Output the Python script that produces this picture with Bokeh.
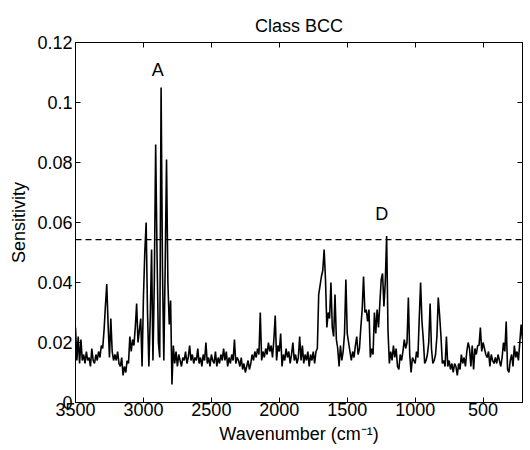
from bokeh.plotting import figure
from bokeh.models import Range1d, LinearAxis, FixedTicker, Span, Label
from bokeh.embed import file_html
from bokeh.resources import INLINE

# ---- data ----
wavenumber = list(range(3500, 205, -10))  # sampling grid, cm^-1
sens_milli = [
    25, 14, 22, 13, 21, 14, 16, 13, 17, 14,      # 3500-3410
    15, 12, 18, 14, 13, 16, 14, 17, 15, 19,      # 3400
    18, 24, 32, 39.5, 26, 15, 28, 17, 14, 16,    # 3300
    14, 17, 13, 12, 15, 9, 12, 10, 14, 13,       # 3200
    22, 17, 21, 19, 25, 33, 20, 24, 28, 12,      # 3100
    35, 50, 60, 30, 12, 28, 51, 14, 40, 86,      # 3000
    50, 20, 15, 105, 45, 14, 45, 81, 40, 26,     # 2900
    34, 6, 19, 13, 17, 12, 16, 14, 12, 15,       # 2800
    14, 17, 13, 15, 19, 14, 16, 13, 15, 14,      # 2700
    18, 13, 15, 12, 16, 14, 20, 13, 15, 12,      # 2600
    16, 14, 13, 17, 12, 15, 13, 16, 14, 18,      # 2500
    14, 17, 12, 15, 13, 16, 14, 21, 13, 15,      # 2400
    14, 12, 15, 11, 13, 10, 12, 14, 11, 13,      # 2300
    16, 14, 17, 15, 18, 16, 30, 14, 17, 15,      # 2200
    18, 16, 20, 17, 19, 15, 21, 29, 14, 19,      # 2100
    17, 23, 12, 16, 14, 18, 15, 17, 13, 16,      # 2000
    20, 14, 16, 13, 15, 22, 14, 19, 13, 16,      # 1900
    14, 17, 12, 16, 14, 17, 13, 17, 18, 36,      # 1800
    39, 42, 44, 51, 41, 25, 30, 28, 40, 25,      # 1700
    22, 36, 21, 18, 12, 19, 14, 17, 23, 41,      # 1600
    23, 20, 17, 14, 17, 15, 19, 22, 16, 18,      # 1500
    25, 31, 42, 30, 31, 27, 31, 15, 18, 16,      # 1400
    30, 23, 31, 25, 33, 41, 43, 32, 40, 55.5,    # 1300
    24, 13, 17, 14, 19, 15, 18, 12, 11, 16,      # 1200
    14, 17, 21, 18, 20, 35, 16, 10, 15, 14,      # 1100
    13, 17, 15, 28, 40, 27, 21, 13, 14, 16,      # 1000
    20, 33, 18, 13, 14, 16, 22, 35, 29, 22,      # 900
    13, 14, 12, 22, 12, 14, 11, 13, 10, 13,      # 800
    12, 9, 13, 11, 16, 13, 15, 12, 17, 20,       # 700
    18, 12, 19, 11, 18, 16, 19, 19, 25, 17,      # 600
    20, 18, 16, 15, 17, 12, 16, 14, 13, 15,      # 500
    13, 16, 14, 12, 15, 20, 17, 27, 11, 10,      # 400
    14, 16, 12, 19, 15, 17, 14, 20, 26, 21,      # 300
]
sensitivity = [v / 1000 for v in sens_milli]

threshold = 0.0543
peak_labels = ["A", "D"]
peak_label_x = [2895, 1246]
peak_label_y = [0.1107, 0.063]

x_ticks = [3500, 3000, 2500, 2000, 1500, 1000, 500]
y_ticks = [0, 0.02, 0.04, 0.06, 0.08, 0.1, 0.12]
y_tick_labels = {0: "0", 0.02: "0.02", 0.04: "0.04", 0.06: "0.06",
                 0.08: "0.08", 0.1: "0.1", 0.12: "0.12"}

FONT = "Liberation Sans"
FS = "18px"

p = figure(width=524, height=448, output_backend="svg", toolbar_location=None,
           x_range=Range1d(3500, 210), y_range=Range1d(0, 0.12),
           min_border_left=75, min_border_right=2, min_border_top=42,
           min_border_bottom=46)

p.title.text = "Class BCC"
p.title.align = "center"
p.title.text_font = FONT
p.title.text_font_size = FS
p.title.text_font_style = "normal"
p.title.text_color = "black"
p.title.standoff = 14

p.xgrid.visible = False
p.ygrid.visible = False
p.outline_line_color = "black"
p.outline_line_width = 1

p.line(wavenumber, sensitivity, line_color="black", line_width=1.6)

p.add_layout(Span(location=threshold, dimension="width", line_color="black",
                  line_width=1.2, line_dash="6 4"))

for t, lx, ly in zip(peak_labels, peak_label_x, peak_label_y):
    p.add_layout(Label(x=lx, y=ly, text=t, text_align="center",
                       text_baseline="middle", text_font=FONT,
                       text_font_size=FS, text_color="black"))

def style_axis(ax, labels=True):
    ax.axis_line_color = "black"
    ax.major_tick_line_color = "black"
    ax.major_tick_in = 5
    ax.major_tick_out = 0
    ax.minor_tick_line_color = None
    ax.major_label_text_font = FONT
    ax.major_label_text_font_size = FS if labels else "0px"
    ax.major_label_text_color = "black" if labels else None
    ax.axis_label_text_font = FONT
    ax.axis_label_text_font_size = FS
    ax.axis_label_text_font_style = "normal"
    ax.axis_label_text_color = "black"

xa = p.xaxis[0]
xa.ticker = FixedTicker(ticks=x_ticks)
xa.axis_label = "Wavenumber (cm\u207b\u00b9)"
style_axis(xa)
xa.major_label_standoff = 0
xa.axis_label_standoff = 5

ya = p.yaxis[0]
ya.ticker = FixedTicker(ticks=y_ticks)
ya.major_label_overrides = y_tick_labels
ya.axis_label = "Sensitivity"
style_axis(ya)
ya.major_label_standoff = 3
ya.axis_label_standoff = 5

top = LinearAxis(ticker=FixedTicker(ticks=x_ticks))
style_axis(top, labels=False)
top.major_label_standoff = 0
p.add_layout(top, "above")

right = LinearAxis(ticker=FixedTicker(ticks=y_ticks))
style_axis(right, labels=False)
right.major_label_standoff = 0
p.add_layout(right, "right")

open("out.html", "w").write(file_html(p, INLINE))
